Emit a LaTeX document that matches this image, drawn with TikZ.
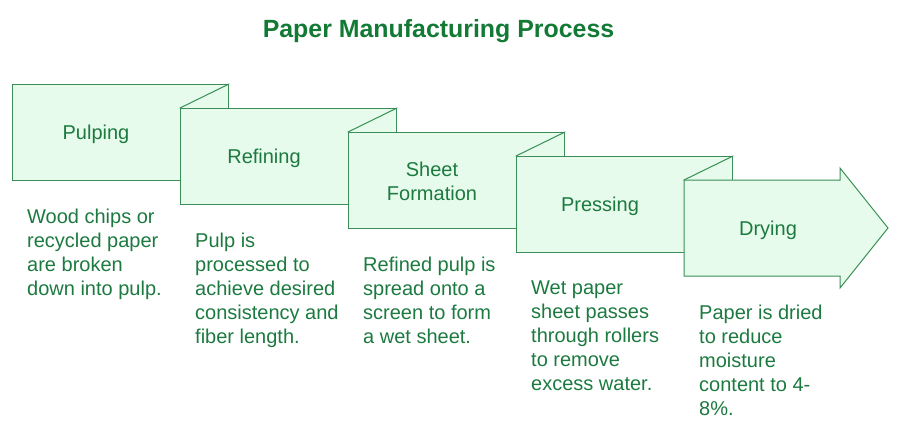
\documentclass[tikz,border=0pt]{standalone}
\usepackage{fontspec}
\setmainfont{Liberation Sans}
\definecolor{boxfill}{HTML}{E6FBEB}
\definecolor{boxline}{HTML}{3A8F58}
\definecolor{txt}{HTML}{1C7A40}
\definecolor{ttl}{HTML}{137A36}
\begin{document}
\begin{tikzpicture}[x=1pt,y=-1pt,
  stepbox/.style={draw=boxline,fill=boxfill,line width=1pt,minimum width=216pt,minimum height=96pt,inner sep=0pt,anchor=north west},
  fold/.style={draw=boxline,line width=1pt,line cap=round},
  lbl/.style={text=txt,font=\fontsize{20}{24}\selectfont,align=center,inner sep=0pt},
  desc/.style={text=txt,font=\fontsize{20}{24}\selectfont,align=left,inner sep=0pt,anchor=north west}]
\useasboundingbox (0,0) rectangle (902,432);
\node[text=ttl,font=\fontsize{24.9}{28}\selectfont\bfseries] (title) at (438.5,31) {Paper Manufacturing Process};
% boxes
\node[stepbox] (b1) at (12,84) {};
\node[stepbox] (b2) at (180,108) {};
\draw[fold] (b2.north west) -- (b1.north east);
\node[stepbox] (b3) at (348,132) {};
\draw[fold] (b3.north west) -- (b2.north east);
\node[stepbox] (b4) at (516,156) {};
\draw[fold] (b4.north west) -- (b3.north east);
\coordinate (a1) at (684,180);
\coordinate (a2) at (840,180);
\coordinate (a3) at (840,168);
\coordinate (a4) at (888,228);
\coordinate (a5) at (840,288);
\coordinate (a6) at (840,276);
\coordinate (a7) at (684,276);
\draw[boxline,fill=boxfill,line width=1pt,line join=miter] (a1) -- (a2) -- (a3) -- (a4) -- (a5) -- (a6) -- (a7) -- cycle;
\draw[fold] (a1) -- (b4.north east);
% labels
\node[lbl] (l1) at (96,134) {Pulping};
\node[lbl] (l2) at (264,158) {Refining};
\node[lbl] (l3) at (432,181) {Sheet\\Formation};
\node[lbl] (l4) at (600,206) {Pressing};
\node[lbl] (l5) at (768,230) {Drying};
% descriptions
\node[desc] (d1) at (27,209) {Wood chips or\\recycled paper\\are broken\\down into pulp.};
\node[desc] (d2) at (195,233) {Pulp is\\processed to\\achieve desired\\consistency and\\fiber length.};
\node[desc] (d3) at (363,257) {Refined pulp is\\spread onto a\\screen to form\\a wet sheet.};
\node[desc] (d4) at (531,281) {Wet paper\\sheet passes\\through rollers\\to remove\\excess water.};
\node[desc] (d5) at (699,305) {Paper is dried\\to reduce\\moisture\\content to 4-\\8\%.};
\end{tikzpicture}
\end{document}
